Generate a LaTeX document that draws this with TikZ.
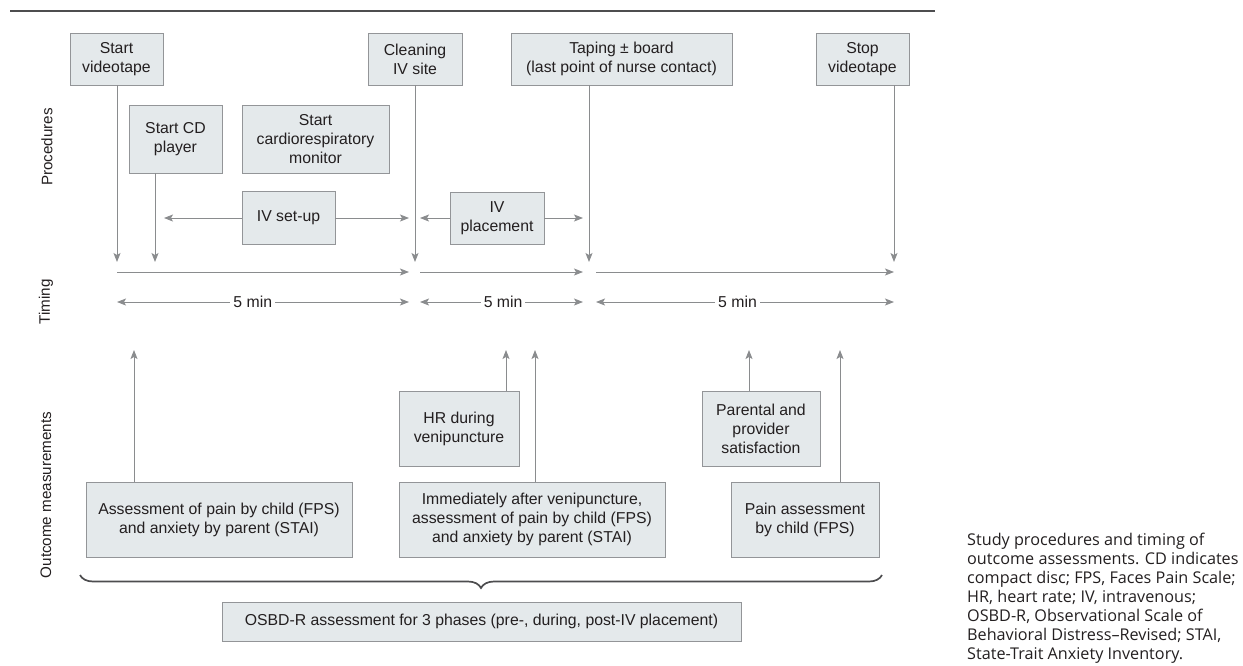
\documentclass[tikz,border=0pt]{standalone}
\usepackage{fontspec}
\setmainfont{Liberation Sans}
\newfontfamily\capfont{Open Sans}
\usetikzlibrary{positioning, arrows.meta, decorations.pathreplacing}

\definecolor{boxfill}{HTML}{E4E9EB}
\definecolor{boxline}{HTML}{939598}
\definecolor{arrowgray}{HTML}{8A8C8E}
\definecolor{textdark}{HTML}{231F20}
\definecolor{ruledark}{HTML}{4D4D4F}

\tikzset{
    box/.style={draw=boxline, fill=boxfill, line width=0.9pt, align=center, inner sep=2pt,
        text=textdark, font=\fontsize{15.8}{19}\selectfont},
    arr/.style={draw=arrowgray, line width=0.9pt, -{Stealth[length=9pt, width=7pt, inset=2pt]}},
    dbl/.style={arr, {Stealth[length=9pt, width=7pt, inset=2pt]}-{Stealth[length=9pt, width=7pt, inset=2pt]}},
    tag/.style={fill=white, inner sep=3pt, text=textdark, font=\fontsize{15.8}{19}\selectfont},
    side/.style={rotate=90, text=textdark, font=\fontsize{15.2}{19}\selectfont},
    brace/.style={draw=ruledark, line width=1.7pt, decorate, decoration={brace, amplitude=13pt}},
}

\begin{document}
\begin{tikzpicture}[x=1pt, y=-1pt]
    \useasboundingbox (0,0) rectangle (1243,665);
    \draw[line width=1.3pt, draw=ruledark] (10,11) -- (935,11);

    % row labels
    \node[side] (lproc) at (47,147) {Procedures};
    \node[side] (ltime) at (46,302) {Timing};
    \node[side] (lout) at (46,495) {Outcome measurements};

    % procedures
    \node[box, minimum width=93pt, minimum height=52pt] (vidstart) at (116.5,59) {Start\\videotape};
    \node[box, minimum width=93pt, minimum height=68pt] (cdstart) at (175.5,139) {Start CD\\player};
    \node[box, minimum width=147pt, minimum height=68pt] (monstart) at (315.5,139) {Start\\cardiorespiratory\\monitor};
    \node[box, minimum width=93pt, minimum height=53pt] (setup) at (288.5,218) {IV set-up};
    \node[box, minimum width=94pt, minimum height=52pt] (clean) at (415,59) {Cleaning\\IV site};
    \node[box, minimum width=221pt, minimum height=52pt] (taping) at (621.5,59) {Taping ± board\\(last point of nurse contact)};
    \node[box, minimum width=93pt, minimum height=52pt] (vidstop) at (862.5,59) {Stop\\videotape};
    \node[box, minimum width=94pt, minimum height=52pt] (place) at (497,218) {IV\\placement};

    \coordinate (t0) at (117,262);
    \coordinate (t1) at (155,262);
    \coordinate (t2) at (415,262);
    \coordinate (t3) at (589,262);
    \coordinate (t4) at (894,262);
    \draw[arr] (vidstart.south -| t0) -- (t0);
    \draw[arr] (cdstart.south -| t1) -- (t1);
    \draw[arr] (clean.south -| t2) -- (t2);
    \draw[arr] (taping.south -| t3) -- (t3);
    \draw[arr] (vidstop.south -| t4) -- (t4);

    \coordinate (su0) at (164,218);
    \coordinate (su1) at (409,218);
    \coordinate (pl0) at (420,218);
    \coordinate (pl1) at (583,218);
    \draw[arr] (setup.west) -- (su0);
    \draw[arr] (setup.east) -- (su1);
    \draw[arr] (place.west) -- (pl0);
    \draw[arr] (place.east) -- (pl1);

    % timing
    \foreach \a/\b [count=\i] in {117/409, 420/583, 596/894} {
        \coordinate (s\i) at (\a,272);
        \coordinate (e\i) at (\b,272);
        \draw[arr] (s\i) -- (e\i);
    }
    \foreach \a/\b/\p [count=\i] in {117/409/0.465, 420/583/0.51, 596/894/0.475} {
        \coordinate (l\i) at (\a,302);
        \coordinate (r\i) at (\b,302);
        \draw[dbl] (l\i) -- node[tag, pos=\p] (min\i) {5 min} (r\i);
    }

    % outcome measurements
    \node[box, minimum width=120pt, minimum height=75pt] (hr) at (459,428.5) {HR during\\venipuncture};
    \node[box, minimum width=118pt, minimum height=75pt] (satis) at (761,428.5) {Parental and\\provider\\satisfaction};
    \node[box, minimum width=266pt, minimum height=75pt] (pre) at (219,519.5) {Assessment of pain by child (FPS)\\and anxiety by parent (STAI)};
    \node[box, minimum width=266pt, minimum height=75pt] (during) at (532,519.5) {Immediately after venipuncture,\\assessment of pain by child (FPS)\\and anxiety by parent (STAI)};
    \node[box, minimum width=148pt, minimum height=75pt] (post) at (805,519.5) {Pain assessment\\by child (FPS)};

    \coordinate (m0) at (134,350);
    \coordinate (m1) at (506,350);
    \coordinate (m2) at (535,350);
    \coordinate (m3) at (749,350);
    \coordinate (m4) at (840,350);
    \draw[arr] (pre.north -| m0) -- (m0);
    \draw[arr] (hr.north -| m1) -- (m1);
    \draw[arr] (during.north -| m2) -- (m2);
    \draw[arr] (satis.north -| m3) -- (m3);
    \draw[arr] (post.north -| m4) -- (m4);

    \draw[brace] (882,575) -- (80,575);
    \node[box, minimum width=519pt, minimum height=39pt] (osbd) at (481.5,621.5) {OSBD-R assessment for 3 phases (pre-, during, post-IV placement)};

    % caption
    \node[anchor=north west, align=left, inner sep=0pt, text=textdark,
        font=\capfont\fontsize{16.2}{19}\selectfont] (caption) at (967,533)
        {Study procedures and timing of\\outcome assessments. CD indicates\\compact disc; FPS, Faces Pain Scale;\\HR, heart rate; IV, intravenous;\\OSBD-R, Observational Scale of\\Behavioral Distress–Revised; STAI,\\State-Trait Anxiety Inventory.};
\end{tikzpicture}
\end{document}
